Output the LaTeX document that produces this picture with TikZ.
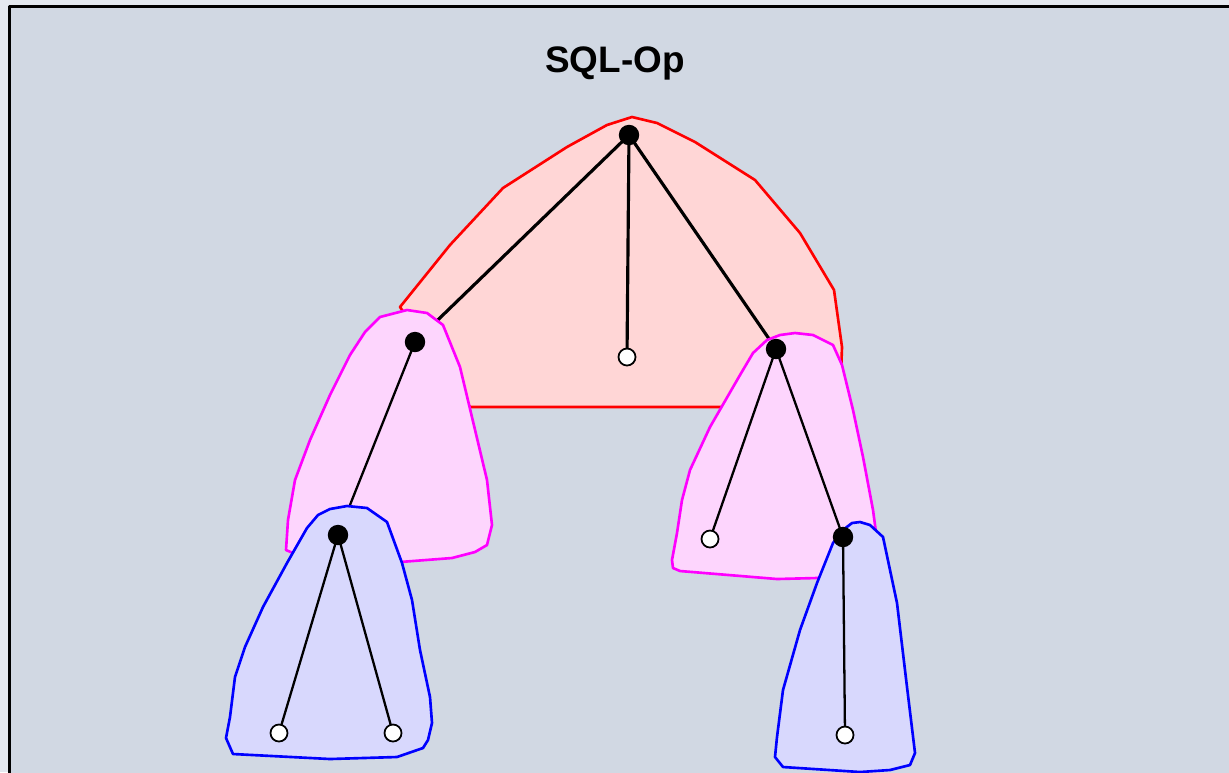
\documentclass[tikz,border=0pt]{standalone}
\usepackage{fontspec}
\setsansfont{Liberation Sans}
\usetikzlibrary{positioning}
\definecolor{outer}{HTML}{E4E8EF}
\definecolor{panel}{HTML}{D1D8E3}
\definecolor{redfill}{HTML}{FFD6D6}
\definecolor{pinkfill}{HTML}{FDD5FD}
\definecolor{bluefill}{HTML}{D8D8FD}
\definecolor{hullred}{HTML}{FF0000}
\definecolor{hullpink}{HTML}{FF00FF}
\definecolor{hullblue}{HTML}{0000FF}
\begin{document}
\begin{tikzpicture}[x=0.02cm,y=-0.02cm,line join=round,
    inner/.style={circle,draw=black,fill=black,line width=0.8pt,inner sep=0pt,minimum size=0.38cm},
    leaf/.style={circle,draw=black,fill=white,line width=1pt,inner sep=0pt,minimum size=0.34cm},
    topedge/.style={line width=1.8pt},
    subedge/.style={line width=1.3pt},
    redhull/.style={draw=hullred,fill=redfill,line width=1.5pt},
    pinkhull/.style={draw=hullpink,fill=pinkfill,line width=1.5pt},
    bluehull/.style={draw=hullblue,fill=bluefill,line width=1.5pt}]
  \useasboundingbox (0,0) rectangle (1229,772);
  \fill[outer] (0,0) rectangle (1229,772);
  \draw[fill=panel,line width=1.2pt] (9.5,6.5) rectangle (1245,790);
  \node[font=\sffamily\bfseries\fontsize{21}{25}\selectfont] (title) at (615,63) {SQL-Op};
  % tree points
  \coordinate (r) at (629,135);
  \coordinate (rm) at (627,357);
  \coordinate (a) at (415,342);
  \coordinate (b) at (776,349);
  \coordinate (aa) at (338,535);
  \coordinate (aal) at (279,733);
  \coordinate (aar) at (393,733);
  \coordinate (bl) at (710,539);
  \coordinate (bb) at (843,537);
  \coordinate (bbl) at (845,735);
  % top level
  \draw[redhull] (632,117) -- (657,123) -- (695,142) -- (755,180) -- (800,233) -- (834,290)
    -- (842,347) -- (840,400) -- (720,407) -- (470,407) -- (400,307) -- (450,245)
    -- (503,188) -- (567,147) -- (607,125) -- cycle;
  \draw[topedge] (r) -- (a) (r) -- (rm) (r) -- (b);
  % second level
  \draw[pinkhull] (380,317) -- (407,310) -- (427,313) -- (443,325) -- (460,367) -- (487,480)
    -- (492,525) -- (487,545) -- (475,552) -- (452,558) -- (400,562) -- (300,556)
    -- (286,550) -- (288,520) -- (295,480) -- (310,440) -- (330,395) -- (350,355) -- (365,332) -- cycle;
  \draw[pinkhull] (780,335) -- (795,333) -- (813,335) -- (833,345) -- (842,365) -- (853,410)
    -- (863,457) -- (873,510) -- (877,540) -- (860,577) -- (817,578) -- (777,579)
    -- (680,571) -- (673,568) -- (672,560) -- (677,533) -- (682,500) -- (690,470)
    -- (710,427) -- (740,375) -- (753,353) -- (767,340) -- cycle;
  \draw[subedge] (a) -- (aa) (b) -- (bl) (b) -- (bb);
  % third level
  \draw[bluehull] (347,506) -- (367,508) -- (387,522) -- (402,563) -- (412,600) -- (420,650)
    -- (430,697) -- (432,723) -- (428,740) -- (423,748) -- (397,757) -- (330,759)
    -- (233,754) -- (226,738) -- (230,717) -- (235,677) -- (245,647) -- (263,607)
    -- (287,563) -- (307,528) -- (318,515) -- (330,509) -- cycle;
  \draw[bluehull] (852,523) -- (860,522) -- (870,525) -- (883,537) -- (897,603) -- (907,687)
    -- (915,753) -- (910,765) -- (890,770) -- (860,772) -- (783,767) -- (775,757)
    -- (777,737) -- (783,690) -- (800,630) -- (817,583) -- (833,543) -- (843,530) -- cycle;
  \draw[subedge] (aa) -- (aal) (aa) -- (aar) (bb) -- (bbl);
  % vertices
  \foreach \v in {r,a,b,aa,bb}
    \node[inner] (\v-dot) at (\v) {};
  \foreach \v in {rm,aal,aar,bl,bbl}
    \node[leaf] (\v-dot) at (\v) {};
\end{tikzpicture}
\end{document}
